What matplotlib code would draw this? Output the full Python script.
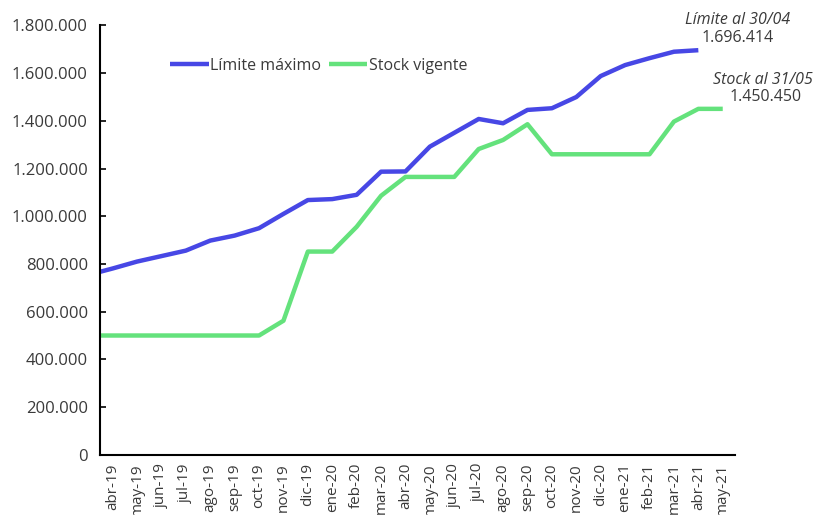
import matplotlib
matplotlib.use("Agg")
import numpy as np
import matplotlib.pyplot as plt
from matplotlib.ticker import FuncFormatter

# month labels, abr-19 .. may-21
meses = ["abr-19", "may-19", "jun-19", "jul-19", "ago-19", "sep-19", "oct-19",
         "nov-19", "dic-19", "ene-20", "feb-20", "mar-20", "abr-20", "may-20",
         "jun-20", "jul-20", "ago-20", "sep-20", "oct-20", "nov-20", "dic-20",
         "ene-21", "feb-21", "mar-21", "abr-21", "may-21"]

# previous month (mar-19) value, only the part up to the axis is visible
limite_prev = 754000
stock_prev = 500000

limite = [781000, 810000, 833000, 856000, 898000, 919000, 950000,
          1010000, 1068000, 1072000, 1090000, 1187000, 1188000, 1292000,
          1350000, 1408000, 1390000, 1446000, 1453000, 1500000, 1588000,
          1634000, 1663000, 1690000, 1696414, np.nan]

stock = [500000, 500000, 500000, 500000, 500000, 500000, 500000,
         562000, 852000, 852000, 956000, 1086000, 1165000, 1165000,
         1165000, 1282000, 1320000, 1386000, 1260000, 1260000, 1260000,
         1260000, 1260000, 1397000, 1450450, 1450450]

yticks = [0, 200000, 400000, 600000, 800000, 1000000, 1200000, 1400000, 1600000, 1800000]

azul = "#4747E5"
verde = "#64E27C"
gris = "#3a3a3a"

plt.rcParams['font.family'] = ['Open Sans', 'DejaVu Sans']

fig = plt.figure(figsize=(8.23, 5.15), dpi=100)
ax = fig.add_axes([0.122, 0.117, 0.771, 0.8335])

x = np.arange(-1, len(meses))
ax.plot(x, [limite_prev] + limite, color=azul, lw=3.2, label="Límite máximo",
        solid_capstyle='butt')
ax.plot(x, [stock_prev] + stock, color=verde, lw=3.2, label="Stock vigente",
        solid_capstyle='butt')

ax.set_xlim(-0.5, len(meses) - 0.5)
ax.set_ylim(0, 1800000)
ax.set_yticks(yticks)
ax.yaxis.set_major_formatter(FuncFormatter(lambda v, p: "0" if v == 0 else f"{int(v):,}".replace(",", ".")))
ax.set_xticks(np.arange(len(meses)))
ax.set_xticklabels(meses, rotation=90, va='top')

ax.spines['top'].set_visible(False)
ax.spines['right'].set_visible(False)
ax.spines['left'].set_linewidth(1.5)
ax.spines['bottom'].set_linewidth(1.5)
ax.tick_params(axis='y', direction='in', length=4, width=1.2, labelsize=12,
               labelcolor=gris, pad=9)
ax.tick_params(axis='x', length=0, labelsize=11, labelcolor=gris, pad=6)

leg = ax.legend(loc='upper left', bbox_to_anchor=(0.1, 0.94), ncol=2, frameon=False,
                fontsize=11.5, handlelength=2.4, handletextpad=0.1, columnspacing=0.5,
                borderaxespad=0)
for t in leg.get_texts():
    t.set_color(gris)

ax.annotate("Límite al 30/04", xy=(24, limite[24]), xytext=(28, 21.5),
            textcoords='offset points', ha='center', va='center', fontsize=11.5,
            style='italic', color=gris)
ax.annotate("1.696.414", xy=(24, limite[24]), xytext=(28, 8.6),
            textcoords='offset points', ha='center', va='center', fontsize=11.5, color=gris)
ax.annotate("Stock al 31/05", xy=(25, stock[25]), xytext=(29, 21),
            textcoords='offset points', ha='center', va='center', fontsize=11.5,
            style='italic', color=gris)
ax.annotate("1.450.450", xy=(25, stock[25]), xytext=(31, 8.2),
            textcoords='offset points', ha='center', va='center', fontsize=11.5, color=gris)

plt.savefig("out.png", dpi=100)
